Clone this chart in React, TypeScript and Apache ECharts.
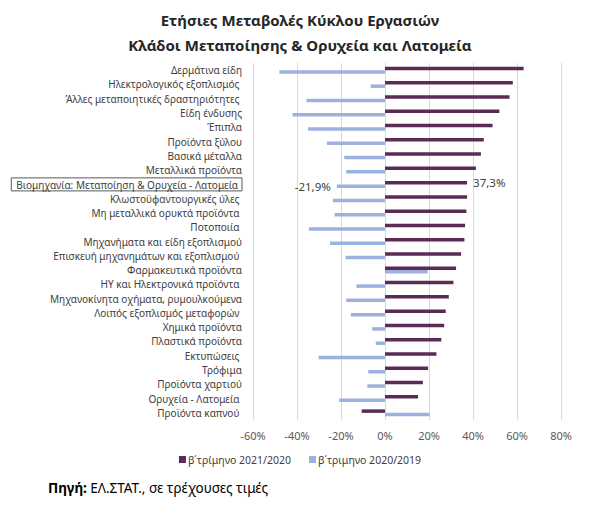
import React, { useEffect, useRef } from "react";
import * as echarts from "echarts";

const categories = [
  "Δερμάτινα είδη",
  "Ηλεκτρολογικός εξοπλισμός ",
  "Άλλες μεταποιητικές δραστηριότητες ",
  "Είδη ένδυσης",
  "Έπιπλα",
  "Προϊόντα ξύλου",
  "Βασικά μέταλλα",
  "Μεταλλικά προϊόντα",
  "Βιομηχανία: Μεταποίηση & Ορυχεία - Λατομεία",
  "Κλωστοϋφαντουργικές ύλες ",
  "Μη μεταλλικά ορυκτά προϊόντα ",
  "Ποτοποιία ",
  "Μηχανήματα και είδη εξοπλισμού",
  "Επισκευή μηχανημάτων και εξοπλισμού ",
  "Φαρμακευτικά προϊόντα",
  "ΗΥ και Ηλεκτρονικά προϊόντα ",
  "Μηχανοκίνητα οχήματα, ρυμουλκούμενα",
  "Λοιπός εξοπλισμός μεταφορών ",
  "Χημικά προϊόντα",
  "Πλαστικά προϊόντα",
  "Εκτυπώσεις ",
  "Τρόφιμα",
  "Προϊόντα χαρτιού",
  "Ορυχεία - Λατομεία ",
  "Προϊόντα καπνού ",
];

const q2_2021_2020 = [
  63, 58.1, 56.6, 52, 48.9, 44.9, 43.6, 41.3, 37.3, 37.3, 37, 36.4, 36.1, 34.6,
  32.3, 31.1, 29, 27.6, 26.9, 25.6, 23.4, 19.6, 17.2, 15, -10.6,
];

const q2_2020_2019 = [
  -48, -6.5, -35.7, -42, -35, -26.4, -18.5, -17.6, -21.9, -23.7, -22.9, -34.6,
  -25, -17.9, 19.4, -13, -17.6, -15.5, -5.8, -4.2, -30.2, -7.6, -8, -20.8, 20.2,
];

const seriesNames = ["β΄τρίμηνο 2021/2020", "β΄τριμηνο 2020/2019"];
const highlightIndex = 8;

const xMin = -60;
const xMax = 80;
const xInterval = 20;

const DARK = "#5b2b56";
const LIGHT = "#9cb1df";
const FONT = "Noto Sans";

const fmt = (v: number) => v.toFixed(1).replace(".", ",") + "%";

export default function App() {
  const ref = useRef<HTMLDivElement>(null);

  useEffect(() => {
    if (!ref.current) return;
    const chart = echarts.init(ref.current, undefined, { renderer: "svg" });

    const mkData = (arr: number[], pos: "left" | "right") =>
      arr.map((v, i) =>
        i === highlightIndex
          ? {
              value: v,
              label: {
                show: true,
                position: pos,
                distance: 6,
                formatter: () => fmt(v),
                fontSize: 11.5,
                color: "#404040",
                fontFamily: FONT,
              },
            }
          : v
      );

    chart.setOption({
      animation: false,
      textStyle: { fontFamily: FONT },
      grid: { left: 253, right: 39, top: 63, bottom: 85, containLabel: false },
      xAxis: {
        type: "value",
        min: xMin,
        max: xMax,
        interval: xInterval,
        axisLine: { show: false },
        axisTick: { show: false },
        splitLine: { show: true, lineStyle: { color: "#d9d9d9", width: 1 } },
        axisLabel: {
          formatter: (v: number) => v + "%",
          color: "#595959",
          fontSize: 11,
          margin: 10,
          fontFamily: FONT,
        },
      },
      yAxis: {
        type: "category",
        data: categories,
        inverse: true,
        axisLine: { show: false },
        axisTick: { show: false },
        axisLabel: {
          interval: 0,
          color: "#404040",
          fontSize: 10,
          margin: 11,
          fontFamily: FONT,
          formatter: (value: string, idx: number) =>
            idx === highlightIndex ? `{box|${value}}` : value,
          rich: {
            box: {
              borderColor: "#595959",
              borderWidth: 1,
              padding: [2, 4, 1, 5],
              color: "#404040",
              fontSize: 10,
              fontFamily: FONT,
            },
          },
        },
      },
      legend: {
        data: seriesNames,
        left: "center",
        top: 449,
        icon: "rect",
        itemWidth: 7,
        itemHeight: 7,
        itemGap: 18,
        textStyle: {
          color: "#404040",
          fontSize: 10.5,
          fontFamily: FONT,
          padding: [0, 0, 0, -3],
        },
      },
      series: [
        {
          name: seriesNames[0],
          type: "bar",
          data: mkData(q2_2021_2020, "right"),
          barWidth: 3.5,
          barGap: "0%",
          itemStyle: { color: DARK },
        },
        {
          name: seriesNames[1],
          type: "bar",
          data: mkData(q2_2020_2019, "left"),
          barWidth: 3.5,
          barGap: "0%",
          itemStyle: { color: LIGHT },
        },
      ],
      graphic: [
        {
          type: "text",
          x: 300,
          y: 20,
          style: {
            text: "Ετήσιες Μεταβολές Κύκλου Εργασιών",
            fontSize: 15,
            fontWeight: "bold",
            fontFamily: FONT,
            fill: "#262626",
            align: "center",
            verticalAlign: "middle",
          },
        },
        {
          type: "text",
          x: 300,
          y: 45,
          style: {
            text: "Κλάδοι Μεταποίησης & Ορυχεία και Λατομεία",
            fontSize: 15,
            fontWeight: "bold",
            fontFamily: FONT,
            fill: "#262626",
            align: "center",
            verticalAlign: "middle",
          },
        },
        {
          type: "text",
          x: 48,
          y: 488,
          style: {
            text: "{b|Πηγή:} {n|ΕΛ.ΣΤΑΤ., σε τρέχουσες τιμές}",
            verticalAlign: "middle",
            rich: {
              b: { fontSize: 13.5, fontWeight: "bold", fontFamily: FONT, color: "#262626" },
              n: { fontSize: 13.5, fontFamily: FONT, color: "#262626" },
            },
          },
        },
      ],
    });

    return () => chart.dispose();
  }, []);

  return (
    <div
      ref={ref}
      style={{ position: "absolute", left: 0, top: 0, width: 600, height: 505 }}
    />
  );
}
